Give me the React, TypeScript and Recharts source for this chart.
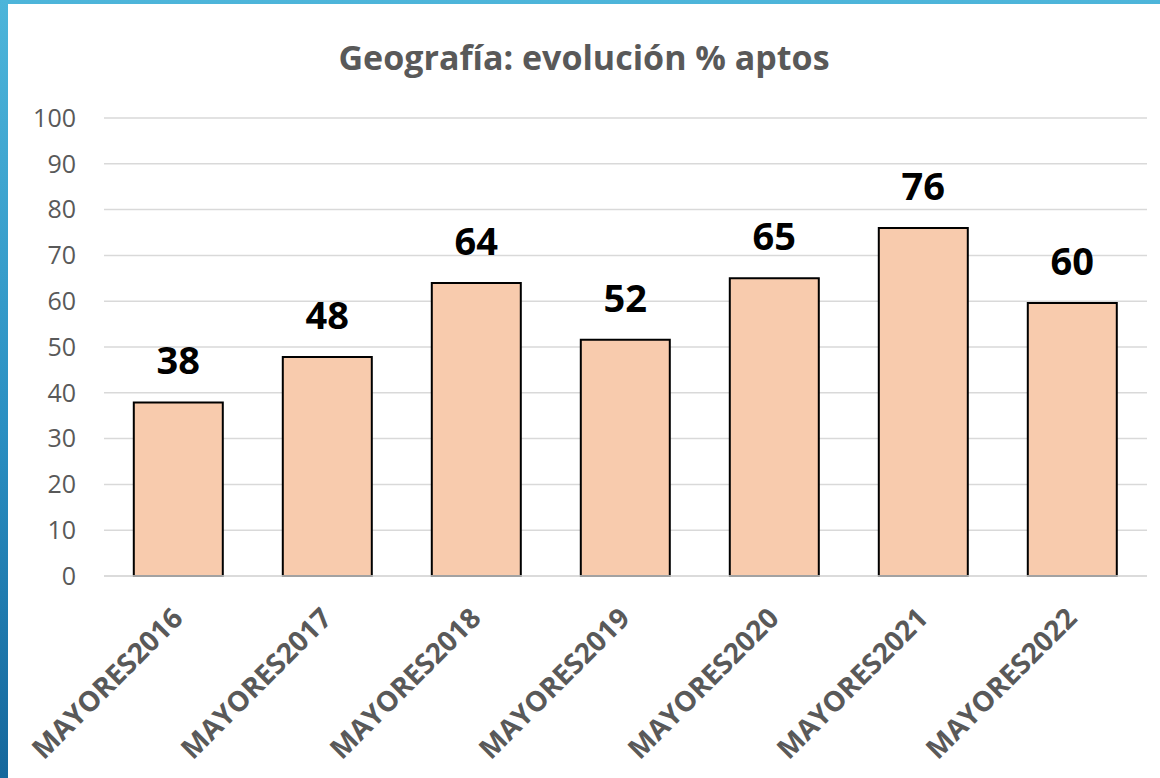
import { Bar, BarChart, CartesianGrid, LabelList, XAxis, YAxis } from "recharts";

const categories = [
  "MAYORES2016",
  "MAYORES2017",
  "MAYORES2018",
  "MAYORES2019",
  "MAYORES2020",
  "MAYORES2021",
  "MAYORES2022",
];
const aptos = [37.9, 47.8, 64.0, 51.6, 65.0, 76.0, 59.6];
const yTicks = [0, 10, 20, 30, 40, 50, 60, 70, 80, 90, 100];

const data = categories.map((name, i) => ({ name, aptos: aptos[i] }));

const font = "'Open Sans', 'DejaVu Sans', sans-serif";
const gray = "#595959";

function RotatedTick(props: any) {
  const { x, y, payload } = props;
  const ax = x + 6;
  const ay = y + 36;
  return (
    <text
      x={ax}
      y={ay}
      transform={`rotate(-45, ${ax}, ${ay})`}
      textAnchor="end"
      fill={gray}
      fontSize={28}
      fontWeight={700}
      fontFamily={font}
    >
      {payload.value}
    </text>
  );
}

export default function App() {
  return (
    <div
      style={{
        position: "absolute",
        left: 0,
        top: 0,
        width: 1160,
        height: 778,
        background: "linear-gradient(180deg, #4db5da 0%, #2a8fc2 55%, #15679c 100%)",
        overflow: "hidden",
      }}
    >
      <div
        style={{
          position: "absolute",
          left: 8,
          top: 4,
          width: 1152,
          height: 774,
          background: "#ffffff",
        }}
      />
      <div
        style={{
          position: "absolute",
          left: 0,
          top: 0,
          width: 1160,
          height: 778,
          fontFamily: font,
        }}
      >
        <div
          style={{
            position: "absolute",
            left: 8,
            width: 1152,
            top: 34,
            textAlign: "center",
            fontSize: 34,
            fontWeight: 700,
            color: gray,
            lineHeight: "46px",
          }}
        >
          Geografía: evolución % aptos
        </div>
        <BarChart
          width={1160}
          height={778}
          data={data}
          margin={{ top: 118, right: 13, bottom: 0, left: 0 }}
          barCategoryGap="20%"
        >
          <CartesianGrid
            vertical={false}
            stroke="#d9d9d9"
            strokeWidth={1.5}
          />
          <XAxis
            dataKey="name"
            interval={0}
            axisLine={{ stroke: "#d9d9d9", strokeWidth: 1.5 }}
            tickLine={false}
            tick={<RotatedTick />}
            height={202}
          />
          <YAxis
            domain={[0, 100]}
            ticks={yTicks}
            interval={0}
            width={104}
            axisLine={false}
            tickLine={false}
            tickMargin={22}
            tick={{ fill: gray, fontSize: 25, fontFamily: font }}
          />
          <Bar
            dataKey="aptos"
            fill="#f8cbad"
            stroke="#000000"
            strokeWidth={2}
            isAnimationActive={false}
          >
            <LabelList
              dataKey="aptos"
              position="top"
              offset={28}
              formatter={(v: any) => Math.round(Number(v))}
              fill="#000000"
              fontSize={38}
              fontWeight={700}
              fontFamily={font}
            />
          </Bar>
        </BarChart>
      </div>
    </div>
  );
}
